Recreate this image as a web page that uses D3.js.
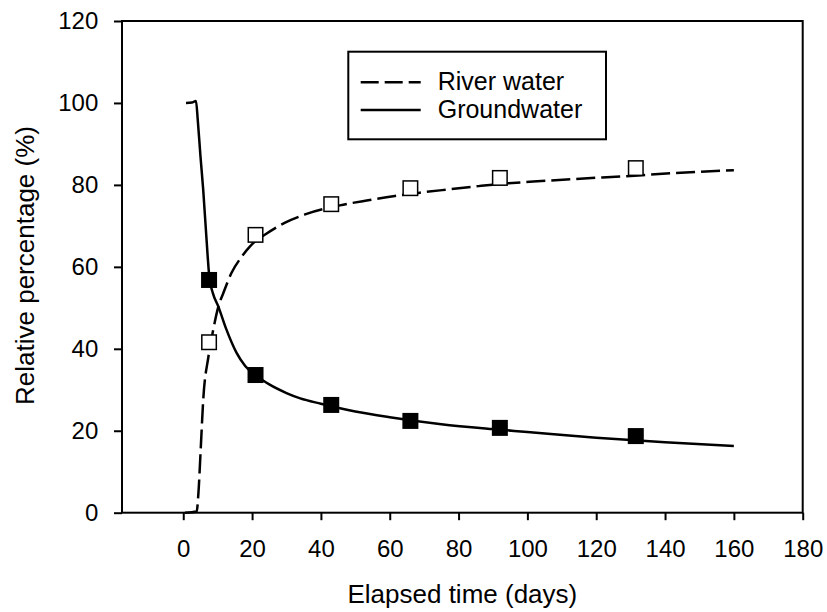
<!DOCTYPE html>
<html lang="en">
<head>
    <meta charset="UTF-8">
    <title>Relative percentage</title>
    <script src="https://cdn.jsdelivr.net/npm/d3@7"></script>
</head>
<body style="margin: 0; background: #fff;">
<script>
    const width = 827;
    const height = 612;
    const margin = ({top: 21, right: 24.3, bottom: 99.3, left: 122});

    // axis ticks
    const xTicks = [0, 20, 40, 60, 80, 100, 120, 140, 160, 180];
    const yTicks = [0, 20, 40, 60, 80, 100, 120];

    // sampled points
    const sampleDays = [7.5, 21, 43, 66, 92, 131.5];
    const groundwaterObs = [56.8, 33.6, 26.3, 22.4, 20.7, 18.7];
    const riverObs = [41.6, 67.8, 75.3, 79.2, 81.7, 84.1];

    // curves: [day, percent]
    const groundwaterCurve = [
        [0.8, 100], [2.5, 100.1], [3.7, 100.5], [4.2, 96], [5, 87], [5.8, 78.8],
        [7.1, 62.5], [7.6, 57.3], [8.6, 53.6], [10.2, 50.3], [12.5, 44.8], [15.5, 39],
        [18, 35.8], [21, 33.5], [23.3, 32.2], [25, 31.3], [30, 29.2], [34, 27.9],
        [40, 26.6], [50, 24.7], [60, 23.3], [75, 21.6], [90, 20.4], [100, 19.7],
        [120, 18.3], [140, 17.2], [160, 16.3]
    ];
    const riverCurve = [
        [0.5, 0], [3.9, 0.3], [4.4, 4.7], [5.1, 16], [5.8, 27.5], [7.3, 38],
        [8.7, 44.6], [10.2, 50.3], [11.6, 53.5], [14, 58.5], [17, 62.5], [19.4, 65],
        [21, 66.3], [23.8, 67.9], [29.6, 70.8], [35.4, 72.8], [45.5, 75], [53.3, 76.2],
        [61.5, 77.3], [68.8, 78.1], [77.1, 78.9], [85.8, 79.7], [94.5, 80.4], [101.7, 80.8],
        [113, 81.4], [130, 82.2], [143, 82.9], [160, 83.6]
    ];

    const seriesNames = ["River water", "Groundwater"];

    const svg = d3.select("body")
        .append("svg")
        .attr("width", width)
        .attr("height", height)
        .style("font-family", "Liberation Sans, Arial, sans-serif");

    const x = d3.scaleLinear()
        .domain([-17.8, 180])
        .range([margin.left, width - margin.right]);

    const y = d3.scaleLinear()
        .domain([0, 120])
        .range([height - margin.bottom, margin.top]);

    const line = d3.line()
        .x(d => x(d[0]))
        .y(d => y(d[1]))
        .curve(d3.curveMonotoneX);

    // x axis
    svg.append("g")
        .attr("transform", `translate(0,${y(0)})`)
        .call(d3.axisBottom(x).tickValues(xTicks).tickSize(7.5).tickSizeOuter(0).tickPadding(19.8))
        .call(g => g.select(".domain").remove())
        .call(g => g.selectAll(".tick line").attr("stroke", "#000").attr("stroke-width", 2))
        .call(g => g.selectAll(".tick text").attr("fill", "#000").style("font-size", "24px"));

    // y axis
    svg.append("g")
        .attr("transform", `translate(${x.range()[0]},0)`)
        .call(d3.axisLeft(y).tickValues(yTicks).tickSize(8).tickSizeOuter(0).tickPadding(15.7))
        .call(g => g.select(".domain").remove())
        .call(g => g.selectAll(".tick line").attr("stroke", "#000").attr("stroke-width", 2))
        .call(g => g.selectAll(".tick text").attr("fill", "#000").style("font-size", "24px"));

    // frame
    svg.append("rect")
        .attr("x", x.range()[0])
        .attr("y", y.range()[1])
        .attr("width", x.range()[1] - x.range()[0])
        .attr("height", y.range()[0] - y.range()[1])
        .attr("fill", "none")
        .attr("stroke", "#000")
        .attr("stroke-width", 2);

    // curves
    svg.append("path")
        .datum(groundwaterCurve)
        .attr("d", line)
        .attr("fill", "none")
        .attr("stroke", "#000")
        .attr("stroke-width", 2.5);

    svg.append("path")
        .datum(riverCurve)
        .attr("d", line)
        .attr("fill", "none")
        .attr("stroke", "#000")
        .attr("stroke-width", 2.5)
        .attr("stroke-dasharray", "19,6");

    const size = 16;

    svg.append("g")
        .selectAll("rect")
        .data(sampleDays.map((d, i) => [d, groundwaterObs[i]]))
        .enter().append("rect")
        .attr("x", d => x(d[0]) - size / 2)
        .attr("y", d => y(d[1]) - size / 2)
        .attr("width", size)
        .attr("height", size)
        .attr("fill", "#000");

    svg.append("g")
        .selectAll("rect")
        .data(sampleDays.map((d, i) => [d, riverObs[i]]))
        .enter().append("rect")
        .attr("x", d => x(d[0]) - (size - 1.5) / 2)
        .attr("y", d => y(d[1]) - (size - 1.5) / 2)
        .attr("width", size - 1.5)
        .attr("height", size - 1.5)
        .attr("fill", "#fff")
        .attr("stroke", "#000")
        .attr("stroke-width", 1.5);

    // axis titles
    svg.append("text")
        .attr("x", (x.range()[0] + x.range()[1]) / 2)
        .attr("y", 603)
        .attr("text-anchor", "middle")
        .style("font-size", "26px")
        .text("Elapsed time (days)");

    svg.append("text")
        .attr("transform", "translate(33.5,265.5) rotate(-90)")
        .attr("text-anchor", "middle")
        .style("font-size", "26px")
        .text("Relative percentage (%)");

    // legend
    const legend = svg.append("g");
    legend.append("rect")
        .attr("x", 348.3)
        .attr("y", 51.7)
        .attr("width", 257.7)
        .attr("height", 87.6)
        .attr("fill", "#fff")
        .attr("stroke", "#000")
        .attr("stroke-width", 2);

    const rows = legend.selectAll("g.row")
        .data(seriesNames)
        .enter().append("g")
        .attr("class", "row")
        .attr("transform", (d, i) => `translate(360.7, ${82.3 + i * 27.7})`);

    rows.append("line")
        .attr("x1", 0)
        .attr("x2", 60)
        .attr("stroke", "#000")
        .attr("stroke-width", 2.5)
        .attr("stroke-dasharray", (d, i) => i === 0 ? "18,6" : null);

    rows.append("text")
        .attr("x", 77)
        .attr("y", 7.5)
        .style("font-size", "25px")
        .text(d => d);
</script>
</body>
</html>
